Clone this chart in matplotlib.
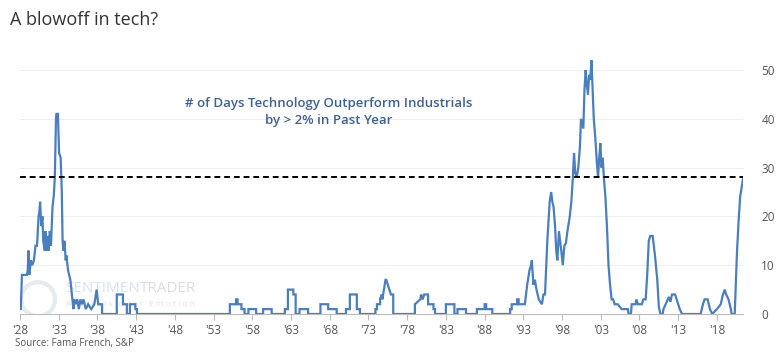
import matplotlib.pyplot as plt
from matplotlib.patches import Ellipse

plt.rcParams['font.family'] = ['Open Sans', 'DejaVu Sans']

# yearly position (decimal year) and number of days
years = [1928.1, 1928.25, 1928.9, 1929.0, 1929.1, 1929.2, 1929.4, 1929.6, 1929.8, 1930.0,
         1930.2, 1930.4, 1930.5, 1930.6, 1930.75, 1930.9, 1931.0, 1931.2, 1931.3, 1931.45,
         1931.6, 1931.7, 1931.85, 1932.0, 1932.2, 1932.35, 1932.5, 1932.65, 1932.7, 1932.9,
         1933.05, 1933.25, 1933.4, 1933.5, 1933.6, 1933.75, 1933.9, 1934.0, 1934.2, 1934.5,
         1934.7, 1934.9, 1935.0, 1935.2, 1935.4, 1935.6, 1935.8, 1936.0, 1936.2, 1936.5,
         1936.8, 1937.2, 1937.6, 1937.9, 1938.1, 1938.6, 1938.6, 1940.5, 1940.5, 1941.3,
         1941.3, 1941.8, 1941.8, 1942.2, 1942.2, 1942.9, 1942.9, 1943.1, 1943.1,
         1955.1, 1955.1, 1955.9, 1955.9, 1956.1, 1956.1, 1956.6, 1956.6, 1957.0, 1957.0,
         1957.5, 1957.5, 1958.5, 1958.5, 1959.4, 1959.4, 1960.5, 1960.5,
         1962.2, 1962.2, 1962.6, 1962.6, 1963.3, 1963.3, 1963.6, 1963.6, 1964.1, 1964.1,
         1965.2, 1965.2, 1966.8, 1966.8, 1967.8, 1967.8, 1968.9, 1968.9,
         1970.1, 1970.1, 1970.6, 1970.6, 1971.5, 1971.5, 1971.9, 1971.9,
         1973.9, 1973.9, 1974.1, 1974.1, 1974.5, 1974.5, 1974.7, 1974.8, 1975.2, 1975.3,
         1975.5, 1975.9, 1976.2, 1976.2,
         1979.0, 1979.0, 1979.7, 1979.8, 1980.0, 1980.2, 1980.7, 1980.7, 1981.4, 1981.4,
         1981.6, 1981.6, 1983.0, 1983.0, 1984.1, 1984.1, 1984.5, 1984.5, 1985.6, 1985.6,
         1987.0, 1987.0, 1988.0, 1988.0, 1988.2, 1988.2, 1989.0, 1989.0,
         1991.3, 1991.3, 1991.5, 1991.5, 1992.2, 1992.2, 1992.4, 1992.4, 1993.2,
         1993.5, 1993.8, 1994.0, 1994.1, 1994.3, 1994.5, 1994.7, 1995.0, 1995.4, 1995.6,
         1995.8, 1996.1, 1996.4, 1996.6, 1996.75, 1996.9, 1997.1, 1997.25, 1997.4, 1997.6,
         1997.75, 1997.9, 1998.1, 1998.3, 1998.5, 1998.7, 1999.0, 1999.2, 1999.4, 1999.55,
         1999.7, 1999.9, 2000.1, 2000.3, 2000.45, 2000.6, 2000.75, 2000.9, 2001.05, 2001.2,
         2001.35, 2001.5, 2001.65, 2001.8, 2001.9, 2002.1, 2002.3, 2002.5, 2002.65, 2002.8,
         2002.95, 2003.1, 2003.25, 2003.4, 2003.6, 2003.8, 2004.0, 2004.2, 2004.4, 2004.6,
         2004.8, 2005.2, 2005.7, 2006.5, 2006.6, 2006.9, 2007.0, 2007.5, 2007.6, 2007.8,
         2008.3, 2008.5, 2008.8, 2009.0, 2009.2, 2009.4, 2009.7, 2010.0, 2010.3, 2010.5,
         2010.7, 2011.0, 2011.1, 2011.8, 2012.0, 2012.2, 2012.6, 2013.0, 2013.2, 2013.5,
         2015.9, 2016.2, 2016.4, 2016.8, 2017.1, 2017.4, 2018.0, 2018.5, 2018.7, 2019.0,
         2019.2, 2019.5, 2019.8, 2019.9, 2020.3, 2020.6, 2020.8, 2021.0, 2021.2, 2021.4]
days = [1, 8, 8, 9, 13, 8, 11, 10, 11, 14,
        14, 20, 21, 23, 18, 20, 15, 13, 17, 13,
        16, 13, 17, 14, 22, 24, 28, 40, 41, 41,
        33, 32, 25, 15, 13, 15, 11, 12, 9, 7,
        4, 1, 3, 2, 3, 1, 3, 2, 3, 1,
        2, 1, 2, 5, 2, 2, 0, 0, 4, 4,
        2, 2, 0, 0, 2, 2, 1, 1, 0,
        0, 2, 2, 3, 3, 2, 2, 1, 1, 0,
        0, 1, 1, 0, 0, 1, 1, 0,
        0, 1, 1, 5, 5, 4, 4, 0, 0, 1,
        1, 0, 0, 2, 2, 1, 1, 0,
        0, 1, 1, 4, 4, 1, 1, 0,
        0, 1, 1, 2, 2, 3, 4, 3, 7, 7,
        6, 4, 4, 0,
        0, 2, 3, 4, 3, 4, 4, 2, 2, 1,
        1, 0, 0, 2, 2, 0, 0, 1, 1, 0,
        0, 1, 1, 2, 2, 1, 1, 0,
        0, 1, 1, 2, 2, 3, 3, 2, 2,
        6, 9, 10, 11, 6, 7, 5, 3, 2, 4,
        4, 15, 23, 25, 23, 22, 18, 13, 11, 17,
        15, 13, 10, 14, 14.5, 17, 20, 23, 28, 33,
        29, 28, 30, 34, 40, 39, 38, 46, 50, 47,
        45, 49, 48, 52, 48, 40, 36, 31, 28, 32,
        35, 30, 32, 28, 24, 18, 10, 6, 3, 3,
        2, 2, 1, 1, 0, 0, 2, 2, 3, 2,
        2, 3, 3, 8, 15, 16, 16, 12, 7, 1.5,
        0, 0, 1, 3.5, 2.5, 4, 4, 2, 1, 0,
        0, 2, 3, 3, 1, 0, 1, 2, 3.5, 5,
        4, 3, 1, 0, 0, 13, 19, 24, 26, 28]

threshold = 28
tick_years = [1928, 1933, 1938, 1943, 1948, 1953, 1958, 1963, 1968, 1973,
              1978, 1983, 1988, 1993, 1998, 2003, 2008, 2013, 2018]
tick_labels = ["'28", "'33", "'38", "'43", "'48", "'53", "'58", "'63", "'68", "'73",
               "'78", "'83", "'88", "'93", "'98", "'03", "'08", "'13", "'18"]
y_ticks = [0, 10, 20, 30, 40, 50]

fig = plt.figure(figsize=(7.84, 3.62), dpi=100)
ax = fig.add_axes([0.0255, 0.1326, 0.9225, 0.7414])

ax.plot(years, days, color='#4a7ebf', lw=1.6, solid_joinstyle='miter', zorder=3)
ax.axhline(threshold, color='black', lw=1.4, linestyle=(0, (3, 2)), zorder=4)

ax.set_xlim(1928, 2021.4)
ax.set_ylim(0, 55)

ax.yaxis.tick_right()
ax.set_yticks(y_ticks)
ax.set_yticklabels([str(v) for v in y_ticks])
ax.tick_params(axis='y', length=0, pad=13, labelsize=8.5, labelcolor='#555555')
ax.set_xticks(tick_years)
ax.set_xticklabels(tick_labels)
ax.tick_params(axis='x', length=4, width=0.8, color='#bbbbbb', pad=3,
               labelsize=8.5, labelcolor='#555555')

ax.grid(axis='y', color='#eeeeee', lw=0.7)
ax.set_axisbelow(True)
for side in ['top', 'right', 'left']:
    ax.spines[side].set_visible(False)
ax.spines['bottom'].set_color('#bbbbbb')

ax.text(0.427, 0.753, '# of Days Technology Outperform Industrials\nby > 2% in Past Year',
        transform=ax.transAxes, ha='center', va='center', fontsize=9.5,
        fontweight='semibold', color='#3d6195', linespacing=1.45)

# faint watermark
ax.add_patch(Ellipse((0.025, 0.055), 0.047, 0.127, transform=ax.transAxes,
                     fill=False, edgecolor='#e6ebf0', lw=3, zorder=1))
wm = ax.text(0.063, 0.095, 'SENTIMEN', transform=ax.transAxes, fontsize=11,
             color='#d4e3f1', ha='left', va='center', zorder=1)
ax.annotate('TRADER', xy=(1, 0.5), xycoords=wm, fontsize=11,
            color='#dddddd', ha='left', va='center', zorder=1)
ax.text(0.063, 0.035, 'A n a l y s i s   o v e r   E m o t i o n', transform=ax.transAxes,
        fontsize=6, color='#e0e0e0', ha='left', va='center', zorder=1)

fig.text(0.013, 0.945, 'A blowoff in tech?', fontsize=13, color='#333333',
         ha='left', va='center')
fig.text(0.019, 0.052, 'Source: Fama French, S&P', fontsize=7, color='#555555',
         ha='left', va='center')

fig.savefig('out.png', dpi=100)
